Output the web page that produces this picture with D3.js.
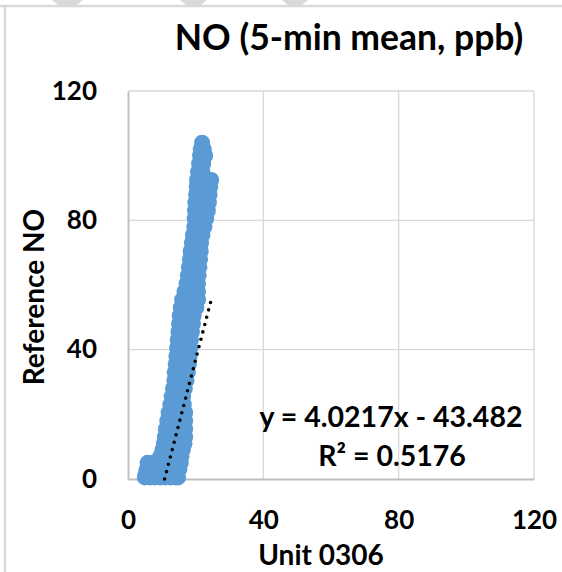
<!DOCTYPE html>
<html><head><meta charset="utf-8">
<script src="https://cdn.jsdelivr.net/npm/d3@7"></script>
<style>
body{margin:0;background:#fff}
text{font-family:Lato,"Open Sans",sans-serif;font-weight:700;fill:#000}
</style>
</head><body>
<svg id="chart" width="562" height="572"></svg>
<script>
const title = "NO (5-min mean, ppb)";
const xTitle = "Unit 0306";
const yTitle = "Reference NO";
const xTicks = [0, 40, 80, 120];
const yTicks = [0, 40, 80, 120];
const slope = 4.0217, intercept = -43.482, r2 = "0.5176";

// paired values
const unit0306 = [
  5.0, 6.5, 8.0, 9.5, 11.0, 12.5, 14.0, 14.8,
  5.2, 7.0, 9.0, 11.0, 13.0, 14.5,
  5.5, 7.5, 10.0, 12.0, 14.0, 15.2,
  5.8, 7.5, 9.5, 11.5, 13.5, 15.6,
  9.5, 11.5, 13.5, 15.8,
  10.2, 12.0, 14.0, 16.2,
  10.6, 12.5, 14.5, 16.7,
  10.9, 12.8, 14.8, 16.9,
  11.2, 13.2, 15.2, 16.9,
  11.6, 13.5, 15.4, 16.9,
  12.0, 14.0, 16.0, 16.9,
  12.5, 14.5, 16.5,
  12.9, 14.8, 16.3,
  13.3, 15.0, 16.8,
  13.7, 15.5, 17.3,
  13.8, 15.8, 17.7,
  14.1, 16.0, 18.0,
  14.3, 16.3, 18.2,
  14.5, 16.5, 18.4,
  14.7, 16.8, 18.6,
  14.9, 17.0, 18.9,
  15.1, 17.2, 19.2,
  15.3, 17.4, 19.4,
  15.6, 17.8, 20.2,
  16.0, 18.3, 20.7,
  16.7, 18.7, 20.7,
  17.3, 19.0, 20.7,
  17.7, 19.5, 20.9,
  18.0, 19.8, 21.1,
  18.3, 20.0, 21.3,
  18.5, 20.2, 21.5,
  18.9, 20.5, 21.6,
  19.2, 20.8, 22.0,
  19.6, 21.2, 22.6,
  19.7, 21.5, 23.1,
  19.8, 21.8, 23.6,
  19.9, 22.0, 23.9,
  20.1, 22.2, 24.1,
  20.3, 22.3, 24.3,
  20.4, 22.2, 24.6,
  20.7, 22.0,
  21.0, 22.2,
  21.3, 22.8,
  21.5, 22.4,
  21.9
];
const referenceNO = [
  0.5, 0.5, 0.5, 0.5, 0.5, 0.5, 0.5, 0.5,
  1.5, 1.5, 1.5, 1.5, 1.5, 1.5,
  3, 3, 3, 3, 3, 3,
  5, 5, 5, 5, 5, 5,
  7, 7, 7, 7,
  9, 9, 9, 9,
  11, 11, 11, 11,
  13, 13, 13, 13,
  15.5, 15.5, 15.5, 15.5,
  18, 18, 18, 18,
  20.5, 20.5, 20.5, 20.5,
  23, 23, 23,
  25.5, 25.5, 25.5,
  28, 28, 28,
  30.5, 30.5, 30.5,
  33, 33, 33,
  35.5, 35.5, 35.5,
  38, 38, 38,
  40.5, 40.5, 40.5,
  43, 43, 43,
  45.5, 45.5, 45.5,
  48, 48, 48,
  50.5, 50.5, 50.5,
  53, 53, 53,
  55.5, 55.5, 55.5,
  58, 58, 58,
  60.5, 60.5, 60.5,
  63, 63, 63,
  65.5, 65.5, 65.5,
  68, 68, 68,
  70.5, 70.5, 70.5,
  73, 73, 73,
  75.5, 75.5, 75.5,
  78, 78, 78,
  80.5, 80.5, 80.5,
  83, 83, 83,
  85.5, 85.5, 85.5,
  88, 88, 88,
  90.5, 90.5, 90.5,
  92.5, 92.5, 92.5,
  95, 95,
  97.5, 97.5,
  100, 100,
  102, 102,
  104
];
const points = unit0306.map((v, i) => ({x: v, y: referenceNO[i]}));

const svg = d3.select("#chart");
const W = 562, H = 572;
const x = d3.scaleLinear().domain([0, 120]).range([128, 534]);
const y = d3.scaleLinear().domain([0, 120]).range([479, 91]);

// outer chart frame
svg.append("rect").attr("x", 0).attr("y", 0).attr("width", W).attr("height", H).attr("fill", "#fff");
const deco = [[52, 83], [180, 207], [282, 308]];
deco.forEach(([a, b]) => {
  svg.append("path").attr("d", `M${a},0 L${b},0 L${b - 6},5 L${a + 6},5 Z`).attr("fill", "#d9d9d9");
});
svg.append("line").attr("x1", 0).attr("x2", W).attr("y1", 6).attr("y2", 6).attr("stroke", "#d9d9d9").attr("stroke-width", 2.5);
svg.append("line").attr("x1", 5).attr("x2", 5).attr("y1", 6).attr("y2", H).attr("stroke", "#d9d9d9").attr("stroke-width", 2.5);

// gridlines
const grid = svg.append("g");
xTicks.filter(d => d > 0).forEach(d => {
  grid.append("line").attr("x1", x(d)).attr("x2", x(d)).attr("y1", y(0)).attr("y2", y(120))
    .attr("stroke", "#d9d9d9").attr("stroke-width", 1.3);
});
yTicks.filter(d => d > 0).forEach(d => {
  grid.append("line").attr("x1", x(0)).attr("x2", x(120)).attr("y1", y(d)).attr("y2", y(d))
    .attr("stroke", "#d9d9d9").attr("stroke-width", 1.3);
});

// axes
const xAxis = svg.append("g").attr("transform", `translate(0,${y(0)})`)
  .call(d3.axisBottom(x).tickValues(xTicks).tickSize(0).tickPadding(32));
const yAxis = svg.append("g").attr("transform", `translate(${x(0)},0)`)
  .call(d3.axisLeft(y).tickValues(yTicks).tickSize(0).tickPadding(31));
[xAxis, yAxis].forEach(g => {
  g.select(".domain").attr("stroke", "#bfbfbf").attr("stroke-width", 2);
  g.selectAll("text").style("font-family", "Lato, sans-serif").style("font-weight", 700)
    .style("font-size", "26px").attr("fill", "#000");
});

// points
svg.append("g").selectAll("circle").data(points).join("circle")
  .attr("cx", d => x(d.x)).attr("cy", d => y(d.y)).attr("r", 8)
  .attr("fill", "#5b9bd5");

// linear trendline (dotted), drawn over the data x-range, clipped at y = 0
const xmin = d3.min(unit0306), xmax = d3.max(unit0306);
const xStart = Math.max(xmin, -intercept / slope);
svg.append("line")
  .attr("x1", x(xStart)).attr("y1", y(slope * xStart + intercept))
  .attr("x2", x(xmax)).attr("y2", y(slope * xmax + intercept))
  .attr("stroke", "#000").attr("stroke-width", 3.6)
  .attr("stroke-linecap", "round").attr("stroke-dasharray", "0 7.6");

// equation
svg.append("text").attr("x", 391).attr("y", 427).attr("text-anchor", "middle")
  .style("font-size", "28.5px")
  .text(`y = ${slope}x - ${Math.abs(intercept)}`);
svg.append("text").attr("x", 392).attr("y", 466).attr("text-anchor", "middle")
  .style("font-size", "28.5px")
  .text(`R² = ${r2}`);

// titles
svg.append("text").attr("x", 349).attr("y", 50).attr("text-anchor", "middle")
  .style("font-size", "35.5px").text(title);
svg.append("text").attr("x", 321).attr("y", 565).attr("text-anchor", "middle")
  .style("font-size", "28px").text(xTitle);
svg.append("text").attr("transform", `translate(44,297) rotate(-90)`).attr("text-anchor", "middle")
  .style("font-size", "28px").text(yTitle);
</script>
</body></html>
